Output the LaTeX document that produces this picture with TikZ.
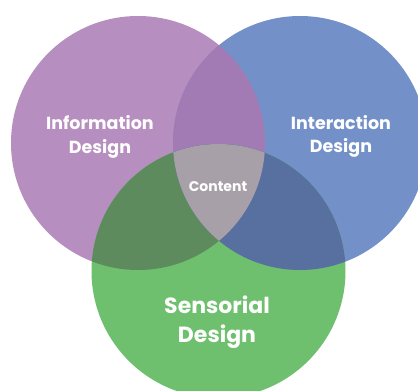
\documentclass[tikz,border=0pt]{standalone}
\usepackage{fontspec}
\setmainfont{Poppins}
\definecolor{cpurple}{RGB}{182,143,192}
\definecolor{cblue}{RGB}{115,145,200}
\definecolor{cgreen}{RGB}{110,192,110}
\definecolor{cpb}{RGB}{162,123,180}
\definecolor{cpg}{RGB}{93,139,93}
\definecolor{cbg}{RGB}{87,112,160}
\definecolor{ccenter}{RGB}{168,160,168}
\tikzset{
  lbl/.style={text=white, font=\bfseries\fontsize{17.5}{23.5}\selectfont, align=center, inner sep=0pt},
  biglbl/.style={text=white, font=\bfseries\fontsize{22}{28.5}\selectfont, align=center, inner sep=0pt},
  smalllbl/.style={text=white, font=\bfseries\fontsize{14}{16}\selectfont, inner sep=0pt}
}
\def\circA{(138,143) circle[radius=127pt]}
\def\circB{(300,143) circle[radius=127pt]}
\def\circC{(218.5,271) circle[radius=127pt]}
\begin{document}
\begin{tikzpicture}[x=1pt,y=-1pt]
\fill[white] (0,0) rectangle (418,391);
\useasboundingbox (0,0) rectangle (418,391);
\clip (0,0) rectangle (418,391);
\fill[cpurple] \circA;
\fill[cblue] \circB;
\fill[cgreen] \circC;
\begin{scope}\clip \circA; \fill[cpb] \circB;\end{scope}
\begin{scope}\clip \circA; \fill[cpg] \circC;\end{scope}
\begin{scope}\clip \circB; \fill[cbg] \circC;\end{scope}
\begin{scope}\clip \circA; \clip \circB; \fill[ccenter] \circC;\end{scope}
\node[lbl] (info) at (100,137) {Information\\Design};
\node[lbl] (inter) at (341,136.5) {Interaction\\Design};
\node[smalllbl] (content) at (218,187) {Content};
\node[biglbl] (sens) at (217,322) {Sensorial\\Design};
\end{tikzpicture}
\end{document}
